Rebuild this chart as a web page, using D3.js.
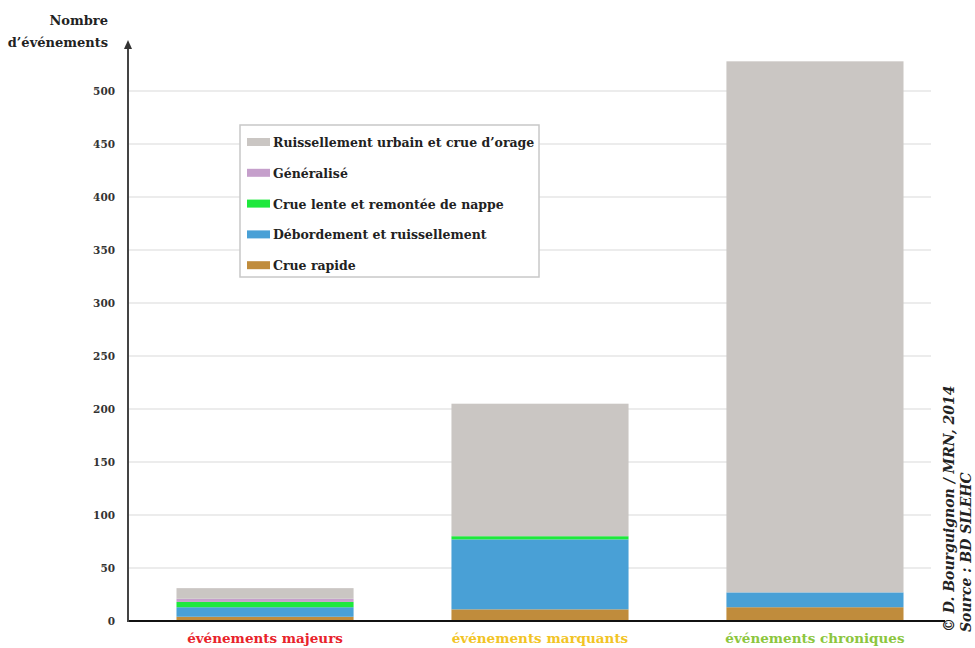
<!DOCTYPE html>
<html><head><meta charset="utf-8">
<script src="https://cdn.jsdelivr.net/npm/d3@7"></script>
<style>body{margin:0;background:#fff}svg{display:block}text{font-family:"DejaVu Serif","Liberation Serif",serif}</style>
</head><body>
<svg id="chart" width="975" height="648"></svg>
<script>
const categories = ["événements majeurs", "événements marquants", "événements chroniques"];
const categoryColors = ["#e8232b", "#f2c425", "#8cc63e"];
const seriesNames = ["Crue rapide", "Débordement et ruissellement", "Crue lente et remontée de nappe", "Généralisé", "Ruissellement urbain et crue d’orage"];
const seriesColors = ["#c08c3c", "#49a0d6", "#1ee83c", "#c59fcb", "#cac6c3"];
const crueRapide = [4, 11, 13];
const debordement = [9, 66, 14];
const crueLente = [5, 3, 0];
const generalise = [3, 0, 0];
const ruissellementUrbain = [10, 125, 501];
const yTicks = [0, 50, 100, 150, 200, 250, 300, 350, 400, 450, 500];

const series = [crueRapide, debordement, crueLente, generalise, ruissellementUrbain];
const rows = categories.map((c, i) => {
  const r = {cat: c};
  seriesNames.forEach((n, j) => r[n] = series[j][i]);
  return r;
});
const stacked = d3.stack().keys(seriesNames)(rows);

const svg = d3.select("#chart");
const y0 = 621, yTop = 40;
const y = d3.scaleLinear().domain([0, 500]).range([y0, 91]);
const x = d3.scaleBand().domain(categories).range([140, 940]).paddingInner(0.356).paddingOuter(0.1327);

// gridlines
svg.append("g").selectAll("line").data(yTicks.filter(d => d > 0)).join("line")
  .attr("x1", 128).attr("x2", 931).attr("y1", d => y(d)).attr("y2", d => y(d))
  .attr("stroke", "#ececec").attr("stroke-width", 2);

// tick labels
svg.append("g").selectAll("text").data(yTicks).join("text")
  .attr("x", 115).attr("y", d => y(d) + 4).attr("text-anchor", "end")
  .attr("font-size", 10.5).attr("font-weight", "bold").attr("fill", "#333")
  .text(d => d);

// bars
svg.append("g").selectAll("g").data(stacked).join("g")
  .attr("fill", (d, i) => seriesColors[i])
  .selectAll("rect").data(d => d).join("rect")
  .attr("x", d => x(d.data.cat)).attr("width", x.bandwidth())
  .attr("y", d => y(d[1])).attr("height", d => Math.max(0, y(d[0]) - y(d[1])));

// axes
svg.append("line").attr("x1", 128).attr("x2", 945).attr("y1", y0).attr("y2", y0)
  .attr("stroke", "#111").attr("stroke-width", 2);
svg.append("line").attr("x1", 128).attr("x2", 128).attr("y1", y0 + 1).attr("y2", yTop + 4)
  .attr("stroke", "#444").attr("stroke-width", 2);
svg.append("path").attr("d", `M128,${yTop} L124,${yTop + 9} L132,${yTop + 9} Z`).attr("fill", "#333");

// y title
svg.append("text").attr("x", 108).attr("y", 25).attr("text-anchor", "end")
  .attr("font-size", 13).attr("font-weight", "bold").attr("fill", "#222").text("Nombre");
svg.append("text").attr("x", 108).attr("y", 47).attr("text-anchor", "end")
  .attr("font-size", 13).attr("font-weight", "bold").attr("fill", "#222").text("d’événements");

// x labels
svg.append("g").selectAll("text").data(categories).join("text")
  .attr("x", d => x(d) + x.bandwidth() / 2).attr("y", 643).attr("text-anchor", "middle")
  .attr("font-size", 13.5).attr("font-weight", "bold")
  .attr("fill", (d, i) => categoryColors[i]).text(d => d);

// legend
const lg = svg.append("g");
lg.append("rect").attr("x", 240).attr("y", 125).attr("width", 299).attr("height", 152)
  .attr("fill", "#fff").attr("stroke", "#c8c8c8").attr("stroke-width", 1.5);
const legendOrder = [4, 3, 2, 1, 0];
legendOrder.forEach((si, k) => {
  const cy = 142 + k * 30.8;
  lg.append("rect").attr("x", 247).attr("y", cy - 4).attr("width", 23).attr("height", 8).attr("fill", seriesColors[si]);
  lg.append("text").attr("x", 273).attr("y", cy + 5).attr("font-size", 12.5).attr("font-weight", "bold")
    .attr("fill", "#222").text(seriesNames[si]);
});

// credit
const cr = svg.append("text").attr("transform", "translate(954,632) rotate(-90)")
  .attr("font-size", 14).attr("font-weight", "bold").attr("font-style", "italic").attr("fill", "#222");
cr.append("tspan").attr("x", 0).attr("y", 0).text("© D. Bourguignon / MRN, 2014");
cr.append("tspan").attr("x", 0).attr("y", 17).text("Source : BD SILEHC");
</script>
</body></html>
